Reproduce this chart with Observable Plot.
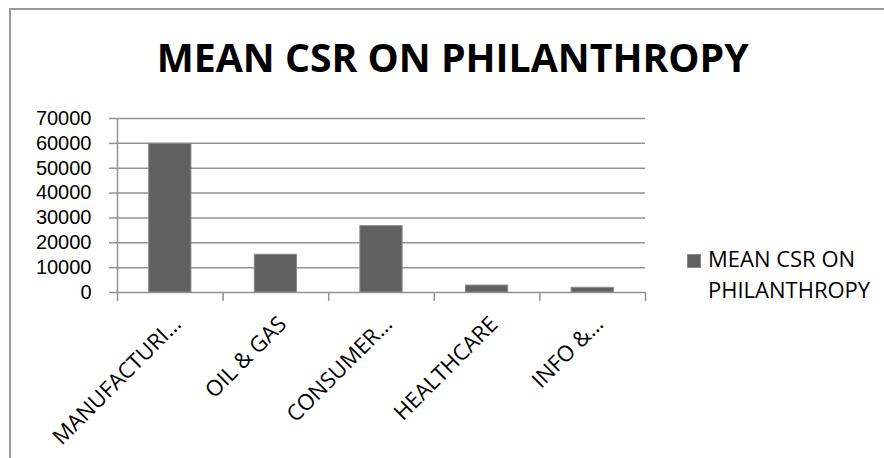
<!DOCTYPE html>
<html>
<head>
<meta charset="utf-8">
<script src="https://cdn.jsdelivr.net/npm/d3@7"></script>
<script src="https://cdn.jsdelivr.net/npm/@observablehq/plot@0.6"></script>
<style>
  html, body { margin: 0; padding: 0; background: #fff; }
  #wrap { position: relative; width: 884px; height: 458px; overflow: hidden; background: #fff; font-family: "Open Sans", sans-serif; }
  #frame { position: absolute; left: 9px; top: 8px; width: 900px; height: 520px; border-left: 2px solid #9a9a9a; border-top: 2px solid #9a9a9a; box-sizing: border-box; }
  #title { position: absolute; top: 37px; left: 0; width: 884px; text-align: center; font-weight: 700; font-size: 40px; line-height: 40px; color: #000; white-space: nowrap; }
  #title span { display: inline-block; transform-origin: center; position: relative; left: 11px; }
  #legend { position: absolute; left: 687px; top: 243px; font-size: 22px; line-height: 31px; color: #000; }
  #legend .sw { position: absolute; left: 0; top: 11px; width: 14px; height: 14px; background: #606060; box-sizing: border-box; border: 1px solid #8a8a8a; }
  #legend .lab { position: absolute; left: 21px; top: 0; white-space: nowrap; }
  #chart { position: absolute; left: 0; top: 0; }
</style>
</head>
<body>
<div id="wrap">
  <div id="frame"></div>
  <div id="chart"></div>
  <div id="title"><span id="titleText"></span></div>
  <div id="legend"><div class="sw"></div><div class="lab" id="legendText"></div></div>
</div>
<script>
// ---- data ----
const title = "MEAN CSR ON PHILANTHROPY";
const seriesName = "MEAN CSR ON PHILANTHROPY";
const categories = ["MANUFACTURI…", "OIL & GAS", "CONSUMER…", "HEALTHCARE", "INFO &…"];
const values = [59800, 15200, 26700, 2800, 1900];
const yTicks = [0, 10000, 20000, 30000, 40000, 50000, 60000, 70000];
const yMax = 70000;

const table = categories.map((c, i) => ({category: c, index: i, value: values[i]}));
const boundaries = d3.range(categories.length + 1);

const grid = "#929292";

const chart = Plot.plot({
  width: 884,
  height: 458,
  marginTop: 118,
  marginBottom: 166,
  marginLeft: 117,
  marginRight: 239,
  style: {background: "transparent", fontFamily: "Open Sans, sans-serif", color: "#000", overflow: "visible"},
  x: {type: "linear", domain: [0, categories.length], axis: null},
  y: {domain: [0, yMax], axis: null},
  marks: [
    Plot.ruleY(yTicks, {stroke: grid, strokeWidth: 1.5}),
    Plot.ruleX([0], {stroke: grid, strokeWidth: 1.5}),
    Plot.axisY({ticks: yTicks, label: null, tickSize: 8, tickPadding: 18, stroke: grid, strokeWidth: 1.5, fill: "#000", fontSize: 20, fontFamily: "Liberation Sans, Arial, sans-serif", tickFormat: d => String(d)}),
    Plot.axisX({ticks: boundaries, label: null, tickSize: 9, stroke: grid, strokeWidth: 1.5, tickFormat: () => ""}),
    Plot.rect(table, {x1: d => d.index + 0.3, x2: d => d.index + 0.7, y1: 0, y2: "value", fill: "#606060", stroke: "#8a8a8a", strokeWidth: 1}),
    Plot.text(table, {x: d => d.index + 0.5, y: 0, text: "category", rotate: -45, textAnchor: "end", dx: 7, dy: 28, fontSize: 22, fill: "#000"})
  ]
});
document.getElementById("chart").appendChild(chart);

const tt = document.getElementById("titleText");
tt.textContent = title;
const w = tt.getBoundingClientRect().width;
tt.style.transform = `scaleX(${592 / w})`;

const lt = document.getElementById("legendText");
const words = seriesName.split(" ");
lt.innerHTML = words.slice(0, 3).join(" ") + "<br>" + words.slice(3).join(" ");
</script>
</body>
</html>
